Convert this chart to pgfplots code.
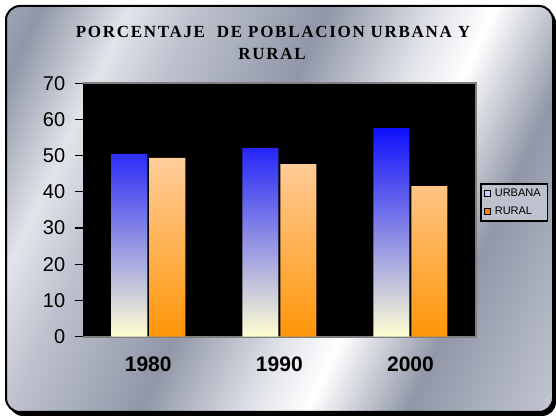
\documentclass[border=0pt]{standalone}
\usepackage{fontspec}
\setmainfont{Liberation Sans}
\newfontfamily\titlefont{Liberation Serif}[LetterSpace=10]
\usepackage{pgfplots}
\pgfplotsset{compat=1.18}

\definecolor{mdark}{RGB}{145,151,168}
\definecolor{mmid}{RGB}{190,194,206}
\definecolor{mlight}{RGB}{226,228,234}
\definecolor{ublue}{RGB}{15,15,252}
\definecolor{ulav}{RGB}{175,175,225}
\definecolor{uyel}{RGB}{255,255,210}
\definecolor{rpeach}{RGB}{255,205,155}
\definecolor{rorange}{RGB}{255,150,10}
\pgfdeclarehorizontalshading{metal}{100bp}{color(0bp)=(mlight); color(10bp)=(mmid); color(20bp)=(mdark); color(28bp)=(mlight); color(34bp)=(mmid); color(46bp)=(mdark); color(56bp)=(mlight); color(61bp)=(white); color(70bp)=(mdark); color(82bp)=(mmid); color(90bp)=(mlight); color(100bp)=(mdark)}

\pgfplotstableread{
x urbana rural
0 50.5 49.4
1 52.1 47.7
2 57.6 41.6
}\datatable

\begin{document}
\begin{tikzpicture}
\useasboundingbox (0pt,0pt) rectangle (556pt,419pt);
\fill[black, rounded corners=14pt] (9pt,3pt) rectangle (556pt,410pt);
\draw[black, line width=2pt, shading=metal, shading angle=-25, rounded corners=14pt] (6pt,7pt) rectangle (553pt,413pt);
\node[font=\titlefont\bfseries\fontsize{17}{20}\selectfont] at (273pt,387.5pt) {PORCENTAJE\ \ DE POBLACION URBANA Y};
\node[font=\titlefont\bfseries\fontsize{17}{20}\selectfont] at (272pt,365pt) {RURAL};
\begin{axis}[
 name=main,
 at={(82.7pt,82.3pt)}, anchor=south west,
 scale only axis, width=393.3pt, height=253.4pt,
 xmin=-0.5, xmax=2.5, ymin=0, ymax=70,
 ytick={0,10,...,70}, xtick={0,1,2}, xticklabels={1980,1990,2000},
 ybar, bar width=36pt,
 axis background/.style={fill=black},
 axis line style={draw=none},
 tick align=outside, ytick pos=left, major tick length=8pt,
 ytick style={black, line width=1.2pt},
 xtick style={draw=none},
 yticklabel style={font=\fontsize{20}{24}\selectfont, xshift=-6pt},
 xticklabel style={font=\bfseries\fontsize{21}{24}\selectfont, yshift=-9pt},
 /pgf/number format/assume math mode=true,
 clip=false,
 legend cell align=left,
 legend style={at={(1.0102,0.6066)}, anchor=north west, draw=black, line width=1.6pt,
   fill=mmid, font=\fontsize{11}{13}\selectfont, row sep=5pt, inner sep=3pt,
   nodes={inner xsep=4pt}},
]
\draw[gray, line width=2pt] (rel axis cs:0,1) -- (rel axis cs:1,1) -- (rel axis cs:1,0) -- (rel axis cs:0,0);
\addplot[draw=none, bar shift=-19pt, top color=ublue, middle color=ulav, bottom color=uyel, forget plot] table[x=x,y=urbana] {\datatable};
\addplot[draw=none, bar shift=19pt, top color=rpeach, bottom color=rorange, forget plot] table[x=x,y=rural] {\datatable};
\addlegendimage{legend image code/.code={\draw[black,line width=1pt,fill=blue!20!white] (0pt,-3pt) rectangle (6pt,3pt);}}
\addlegendentry{URBANA}
\addlegendimage{legend image code/.code={\draw[black,line width=1pt,fill=orange] (0pt,-3pt) rectangle (6pt,3pt);}}
\addlegendentry{RURAL}
\end{axis}
\end{tikzpicture}
\end{document}
